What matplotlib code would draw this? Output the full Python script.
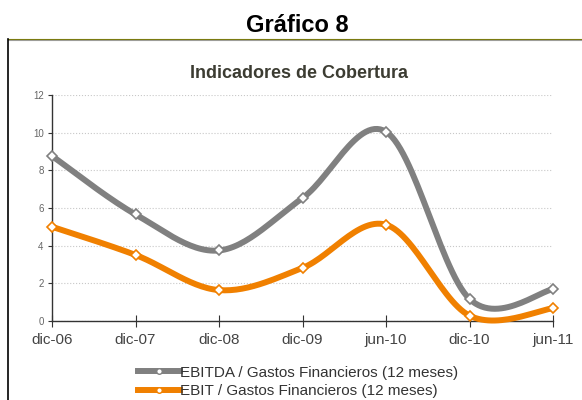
import numpy as np
import matplotlib.pyplot as plt
from matplotlib.lines import Line2D

plt.rcParams['font.family'] = ['Liberation Sans', 'DejaVu Sans']

# Data
periods = ['dic-06', 'dic-07', 'dic-08', 'dic-09', 'jun-10', 'dic-10', 'jun-11']
ebitda = [8.77, 5.66, 3.74, 6.53, 10.06, 1.16, 1.67]
ebit = [5.0, 3.5, 1.63, 2.81, 5.11, 0.27, 0.66]
series_labels = ['EBITDA / Gastos Financieros (12 meses)',
                 'EBIT / Gastos Financieros (12 meses)']
series_colors = ['#808080', '#F08000']


def smooth(x, y, n=30):
    """Excel-style smoothed line (Catmull-Rom as cubic Bezier)."""
    p = np.column_stack([x, y]).astype(float)
    p = np.vstack([p[0], p, p[-1]])
    t = np.linspace(0, 1, n)[:, None]
    out = []
    for i in range(1, len(p) - 2):
        b0 = p[i]
        b3 = p[i + 1]
        b1 = b0 + (p[i + 1] - p[i - 1]) / 6
        b2 = b3 - (p[i + 2] - p[i]) / 6
        seg = ((1 - t) ** 3 * b0 + 3 * (1 - t) ** 2 * t * b1
               + 3 * (1 - t) * t ** 2 * b2 + t ** 3 * b3)
        out.append(seg if i == 1 else seg[1:])
    out = np.vstack(out)
    return out[:, 0], out[:, 1]


fig = plt.figure(figsize=(5.82, 4.0), dpi=100)
ax = fig.add_axes([52 / 582, 1 - 320.7 / 400, 501 / 582, 225.4 / 400])

x = np.arange(len(periods))
handles = []
for vals, col, lab in zip([ebitda, ebit], series_colors, series_labels):
    sx, sy = smooth(x, vals)
    ax.plot(sx, sy, color=col, lw=4.3, solid_capstyle='round', clip_on=False, zorder=3)
    ax.plot(x, vals, ls='none', marker='D', ms=5.5, mfc='white', mec=col,
            mew=1.2, clip_on=False, zorder=4)
    handles.append(Line2D([0], [0], color=col, lw=4.3, marker='o', ms=4,
                          mfc='white', mec=col, mew=1))

ax.set_xlim(0, 6)
ax.set_ylim(0, 12)
ax.set_yticks(range(0, 13, 2))
ax.set_xticks(x)
ax.set_xticklabels(periods)
ax.yaxis.grid(True, color='#c8c8c8', ls=':', lw=0.8)
ax.set_axisbelow(True)
for s in ['top', 'right']:
    ax.spines[s].set_visible(False)
for s in ['left', 'bottom']:
    ax.spines[s].set_color('#333333')
    ax.spines[s].set_linewidth(1.0)
ax.tick_params(axis='y', labelsize=7, labelcolor='#666666', direction='out',
               length=3, color='#333333', pad=3)
ax.tick_params(axis='x', labelsize=11, labelcolor='#444444', direction='inout',
               length=8, color='#333333', pad=5)

fig.legend(handles, series_labels, loc='center', bbox_to_anchor=(298 / 582, 1 - 382 / 400),
           frameon=False, fontsize=11, labelcolor='#333333', handlelength=2.8,
           handletextpad=0.0, labelspacing=0.3, borderpad=0)

fig.text(297.5 / 582, 1 - 26 / 400, 'Gráfico 8', ha='center', va='center',
         fontsize=17, fontweight='bold', color='black')
fig.text(299 / 582, 1 - 74 / 400, 'Indicadores de Cobertura', ha='center', va='center',
         fontsize=13, fontweight='bold', color='#3c3c32')

# Outer chart frame
fig.add_artist(Line2D([8 / 582, 1], [1 - 40 / 400, 1 - 40 / 400], color='#a0a0a0', lw=0.8))
fig.add_artist(Line2D([8 / 582, 1], [1 - 39 / 400, 1 - 39 / 400], color='#7a7a10', lw=0.8))
fig.add_artist(Line2D([8 / 582, 8 / 582], [0, 1 - 39 / 400], color='black', lw=1.2))

fig.savefig('out.png', dpi=100)
